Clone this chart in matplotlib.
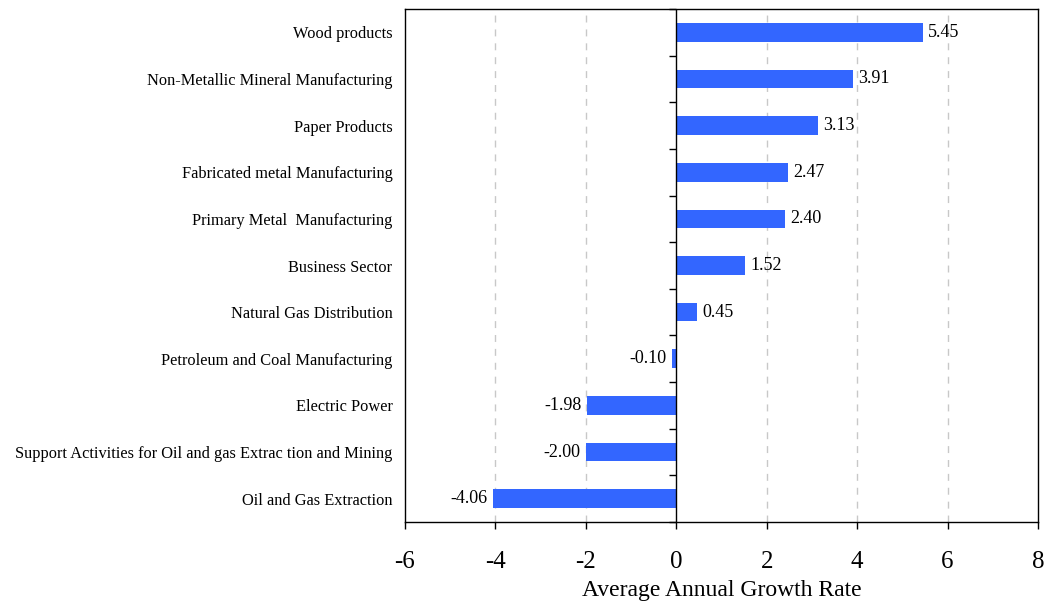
import matplotlib
matplotlib.use("Agg")
import matplotlib.pyplot as plt
from matplotlib.markers import TICKLEFT
import numpy as np

plt.rcParams["font.family"] = ["Liberation Serif", "DejaVu Serif"]

# categories listed bottom to top
sectors = [
    "Oil and Gas Extraction",
    "Support Activities for Oil and gas Extrac tion and Mining",
    "Electric Power",
    "Petroleum and Coal Manufacturing",
    "Natural Gas Distribution",
    "Business Sector",
    "Primary Metal  Manufacturing",
    "Fabricated metal Manufacturing",
    "Paper Products",
    "Non-Metallic Mineral Manufacturing",
    "Wood products",
]
growth = [-4.06, -2.00, -1.98, -0.10, 0.45, 1.52, 2.40, 2.47, 3.13, 3.91, 5.45]
x_ticks = [-6, -4, -2, 0, 2, 4, 6, 8]

fig = plt.figure(figsize=(10.47, 6.03), dpi=100)
ax = fig.add_axes([0.3868, 0.1343, 0.6046, 0.8507])

pos = np.arange(len(sectors))
bars = ax.barh(pos, growth, height=0.4, color="#3366FF", zorder=3)
ax.bar_label(bars, labels=[f"{v:.2f}" for v in growth], padding=4, fontsize=13)

ax.set_xlim(x_ticks[0], x_ticks[-1])
ax.set_ylim(-0.5, len(sectors) - 0.5)
ax.set_xticks(x_ticks)
ax.set_xticklabels([str(t) for t in x_ticks], fontsize=18)
ax.tick_params(axis="x", direction="out", length=5, width=1, pad=16)

ax.set_yticks(pos)
ax.set_yticklabels(sectors, fontsize=11.8)
ax.tick_params(axis="y", length=0, pad=9)

# dashed grid lines (skip the ends and zero)
for t in x_ticks[1:-1]:
    if t != 0:
        ax.axvline(t, color="#c8c8c8", lw=1, ls=(0, (5, 5)), zorder=1)
ax.axvline(0, color="black", lw=1, zorder=4)

# category boundary ticks on the zero axis
bounds = np.arange(len(sectors) + 1) - 0.5
ax.plot(np.zeros(len(bounds)), bounds, ls="none", marker=TICKLEFT,
        ms=5, mew=1, color="black", clip_on=False, zorder=4)

for s in ax.spines.values():
    s.set_linewidth(1)
    s.set_color("black")

ax.set_xlabel("Average Annual Growth Rate", fontsize=17, labelpad=5)

fig.savefig("out.png", dpi=100)
